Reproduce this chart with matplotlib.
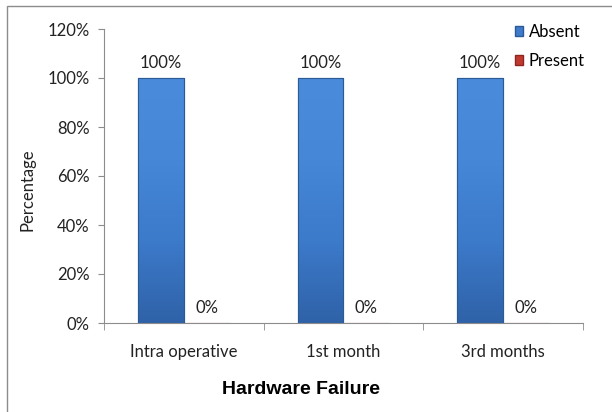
import numpy as np
import matplotlib
matplotlib.use('Agg')
import matplotlib.pyplot as plt
import matplotlib.patches as mpatches
from matplotlib.colors import LinearSegmentedColormap

matplotlib.rcParams['font.family'] = ['Lato', 'DejaVu Sans']

categories = ['Intra operative', '1st month', '3rd months']
absent = [1.0, 1.0, 1.0]
present = [0.0, 0.0, 0.0]
series_names = ['Absent', 'Present']
yticks = [0, 0.2, 0.4, 0.6, 0.8, 1.0, 1.2]
ytick_labels = ['0%', '20%', '40%', '60%', '80%', '100%', '120%']

BLUE = '#3E7BCB'
BLUE_EDGE = '#2C5A95'
RED = '#C0392F'
AXIS_GRAY = '#8C8C8C'
TXT = '#222222'
FS = 12

fig = plt.figure(figsize=(6.12, 4.12), dpi=100)
ax = fig.add_axes([104 / 612, 89 / 412, 479 / 612, 294 / 412])

x = np.arange(len(categories))
w = 0.2875

blue_cmap = LinearSegmentedColormap.from_list('b', ['#2F62A8', '#3C7ACA', '#4687D8', '#4A8BDB'])

bars_a = ax.bar(x - w / 2, absent, width=w, color=BLUE, edgecolor=BLUE_EDGE,
                linewidth=0.8, label=series_names[0], zorder=2)
bars_p = ax.bar(x + w / 2, present, width=w, color=RED, edgecolor='#8E2620',
                linewidth=0.8, label=series_names[1], zorder=2)

# vertical gradient on the bars
grad = np.linspace(0, 1, 256).reshape(-1, 1)
for b in bars_a:
    x0, y0 = b.get_x(), b.get_y()
    bw, bh = b.get_width(), b.get_height()
    if bh <= 0:
        continue
    im = ax.imshow(grad, cmap=blue_cmap, origin='lower', aspect='auto',
                   extent=[x0, x0 + bw, y0, y0 + bh], zorder=2.5)
    im.set_clip_path(b)
    ax.add_patch(mpatches.Rectangle((x0, y0), bw, bh, fill=False,
                                    edgecolor=BLUE_EDGE, linewidth=0.8, zorder=3))

for xi, v in zip(x, absent):
    ax.text(xi - w / 2, v + 0.03, f'{v * 100:.0f}%', ha='center', va='bottom',
            fontsize=FS, color=TXT)
for xi, v in zip(x, present):
    ax.text(xi + w / 2, v + 0.03, f'{v * 100:.0f}%', ha='center', va='bottom',
            fontsize=FS, color=TXT)

ax.set_xlim(-0.5, len(categories) - 0.5)
ax.set_ylim(0, 1.2)
ax.set_yticks(yticks)
ax.set_yticklabels(ytick_labels, fontsize=FS, color=TXT)
ax.set_xticks(x)
ax.set_xticklabels(categories, fontsize=FS, color=TXT)
ax.set_xticks(np.arange(-0.5, len(categories)), minor=True)
ax.tick_params(axis='x', which='major', length=0, pad=15)
ax.tick_params(axis='x', which='minor', length=5, color=AXIS_GRAY, direction='out')
ax.tick_params(axis='y', length=4.5, color=AXIS_GRAY, direction='out', pad=6)

for s in ['top', 'right']:
    ax.spines[s].set_visible(False)
for s in ['left', 'bottom']:
    ax.spines[s].set_color(AXIS_GRAY)
    ax.spines[s].set_linewidth(0.8)

fig.text(28 / 612, 1 - 190 / 412, 'Percentage', rotation=90, ha='center',
         va='center', fontsize=FS, color=TXT)
fig.text(301 / 612, 1 - 390 / 412, 'Hardware Failure', ha='center', va='center',
         fontsize=14, fontweight='bold', family=['Liberation Sans', 'DejaVu Sans'])

h_a = mpatches.Patch(facecolor=BLUE, edgecolor=BLUE_EDGE, label=series_names[0])
h_p = mpatches.Patch(facecolor=RED, edgecolor='#8E2620', label=series_names[1])
fig.legend(handles=[h_a, h_p], loc='upper left', bbox_to_anchor=(508 / 612, 1 - 17 / 412),
           frameon=False, fontsize=FS, handlelength=0.5, handleheight=0.5,
           handletextpad=0.35, labelspacing=0.8, borderaxespad=0)

# chart area border
fig.patches.append(mpatches.Rectangle((7 / 612, -0.05), 1.2, 1 - 6 / 412 + 0.05,
                                      transform=fig.transFigure, fill=False,
                                      edgecolor='#8C8C8C', linewidth=1.0))

fig.savefig('out.png', dpi=100)
